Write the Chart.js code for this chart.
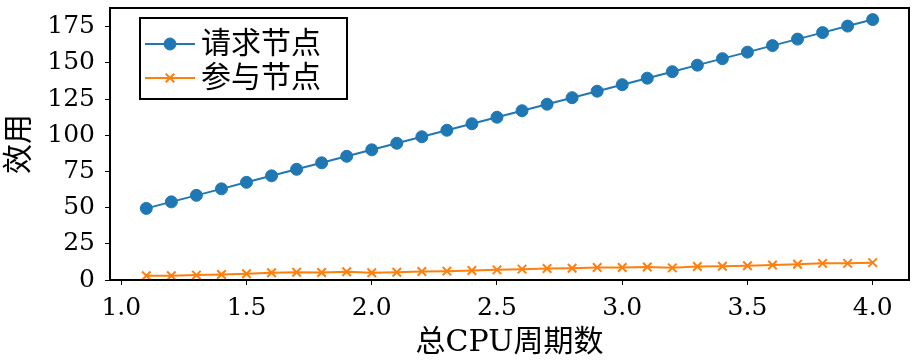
<!DOCTYPE html>
<html>
<head>
<meta charset="utf-8">
<script src="https://cdn.jsdelivr.net/npm/chart.js@4.4.1/dist/chart.umd.min.js"></script>
<style>
  html, body { margin: 0; padding: 0; background: #fff; }
  #wrap { width: 917px; height: 363px; }
</style>
</head>
<body>
<div id="wrap"><canvas id="myChart" width="917" height="363"></canvas></div>
<script>
// data
const cpuCycles = [1.1, 1.2, 1.3, 1.4, 1.5, 1.6, 1.7, 1.8, 1.9, 2.0,
                   2.1, 2.2, 2.3, 2.4, 2.5, 2.6, 2.7, 2.8, 2.9, 3.0,
                   3.1, 3.2, 3.3, 3.4, 3.5, 3.6, 3.7, 3.8, 3.9, 4.0];
const requestNode = [49.5, 54, 58.5, 63, 67.5, 72, 76.5, 81, 85.5, 90,
                     94.5, 99, 103.5, 108, 112.5, 117, 121.5, 126, 130.5, 135,
                     139.5, 144, 148.5, 153, 157.5, 162, 166.5, 171, 175.5, 180];
const joinNode = [2.9, 2.9, 3.4, 3.8, 4.3, 5.0, 5.4, 5.2, 5.7, 5.0,
                  5.4, 5.9, 6.1, 6.6, 7.0, 7.5, 7.9, 8.1, 8.6, 8.6,
                  9.0, 8.4, 9.3, 9.5, 9.9, 10.4, 10.9, 11.5, 11.5, 12.0];
const xTicks = [1.0, 1.5, 2.0, 2.5, 3.0, 3.5, 4.0];
const yTicks = [0, 25, 50, 75, 100, 125, 150, 175];
const seriesNames = ['请求节点', '参与节点'];

const serif = '"DejaVu Serif", "Noto Sans CJK SC", serif';

// top/right spines
const frame = {
    id: 'frame',
    afterDraw(chart) {
        const ctx = chart.ctx;
        const a = chart.chartArea;
        ctx.save();
        ctx.strokeStyle = '#000';
        ctx.lineWidth = 2;
        ctx.strokeRect(a.left, a.top, a.right - a.left, a.bottom - a.top);
        ctx.restore();
    }
};

// matplotlib style legend: line + marker
const mplLegend = {
    id: 'mplLegend',
    afterDraw(chart) {
        const ctx = chart.ctx;
        const a = chart.chartArea;
        const x0 = a.left + 30, y0 = a.top + 10;
        const w = 207, h = 81;
        ctx.save();
        ctx.fillStyle = '#fff';
        ctx.fillRect(x0, y0, w, h);
        ctx.strokeStyle = '#000';
        ctx.lineWidth = 2;
        ctx.strokeRect(x0, y0, w, h);
        chart.data.datasets.forEach((ds, i) => {
            const y = y0 + 26 + i * 34;
            ctx.strokeStyle = ds.borderColor;
            ctx.lineWidth = 2;
            ctx.beginPath();
            ctx.moveTo(x0 + 5, y);
            ctx.lineTo(x0 + 55, y);
            ctx.stroke();
            ctx.fillStyle = ds.pointBackgroundColor || ds.borderColor;
            ctx.lineWidth = ds.pointBorderWidth || 1;
            Chart.helpers.drawPoint(ctx, {
                pointStyle: ds.pointStyle,
                radius: ds.pointRadius,
                borderWidth: ds.pointBorderWidth || 1,
                rotation: 0
            }, x0 + 30, y);
            ctx.fillStyle = '#000';
            ctx.font = '30px ' + serif;
            ctx.textBaseline = 'middle';
            ctx.fillText(ds.label, x0 + 61, y + 1);
        });
        ctx.restore();
    }
};

const ctx = document.getElementById('myChart').getContext('2d');
const myChart = new Chart(ctx, {
    type: 'line',
    data: {
        datasets: [{
            label: seriesNames[0],
            data: cpuCycles.map((x, i) => ({ x: x, y: requestNode[i] })),
            borderColor: '#1f77b4',
            backgroundColor: '#1f77b4',
            borderWidth: 2,
            pointStyle: 'circle',
            pointRadius: 6,
            pointBorderWidth: 1,
            pointBackgroundColor: '#1f77b4',
            pointBorderColor: '#1f77b4'
        }, {
            label: seriesNames[1],
            data: cpuCycles.map((x, i) => ({ x: x, y: joinNode[i] })),
            borderColor: '#ff7f0e',
            backgroundColor: '#ff7f0e',
            borderWidth: 2,
            pointStyle: 'crossRot',
            pointRadius: 6,
            pointBorderWidth: 2,
            pointBorderColor: '#ff7f0e'
        }]
    },
    options: {
        responsive: false,
        animation: false,
        layout: { padding: { top: 3, right: 5, left: 0, bottom: 0 } },
        plugins: {
            legend: { display: false },
            tooltip: { enabled: false }
        },
        scales: {
            x: {
                type: 'linear',
                min: 0.955,
                max: 4.145,
                afterBuildTicks: s => { s.ticks = xTicks.map(v => ({ value: v })); },
                afterFit: s => { s.height = 83; s.paddingLeft = 0; s.paddingRight = 0; },
                ticks: {
                    color: '#000',
                    font: { family: serif, size: 25 },
                    padding: 8,
                    maxRotation: 0,
                    autoSkip: false,
                    callback: v => v.toFixed(1)
                },
                grid: { drawOnChartArea: false, drawTicks: true, tickLength: 5, color: '#000', tickWidth: 1 },
                border: { color: '#000', width: 2 },
                title: {
                    display: true,
                    text: '总CPU周期数',
                    color: '#000',
                    font: { family: serif, size: 30 },
                    padding: { top: 0, bottom: 2 }
                }
            },
            y: {
                type: 'linear',
                min: 0,
                max: 188,
                afterBuildTicks: s => { s.ticks = yTicks.map(v => ({ value: v })); },
                afterFit: s => { s.width = 110; s.paddingTop = 0; s.paddingBottom = 0; },
                ticks: {
                    color: '#000',
                    font: { family: serif, size: 25 },
                    padding: 10,
                    autoSkip: false
                },
                grid: { drawOnChartArea: false, drawTicks: true, tickLength: 5, color: '#000', tickWidth: 1 },
                border: { color: '#000', width: 2 },
                title: {
                    display: true,
                    text: '效用',
                    color: '#000',
                    font: { family: serif, size: 30 },
                    padding: { top: 2, bottom: 0 }
                }
            }
        }
    },
    plugins: [frame, mplLegend]
});
</script>
</body>
</html>
